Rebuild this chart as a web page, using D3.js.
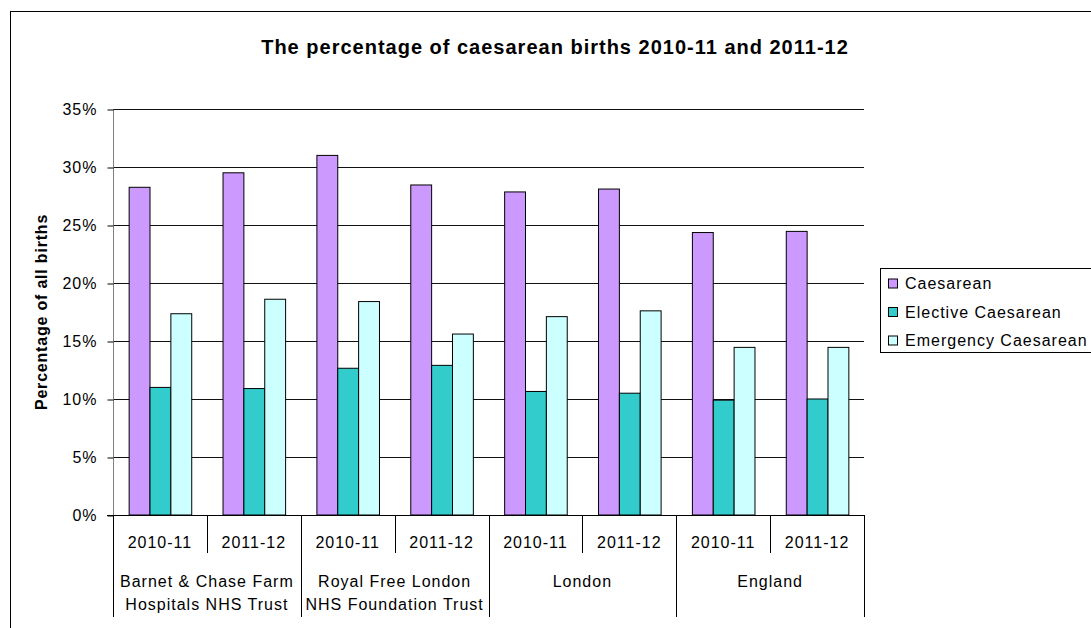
<!DOCTYPE html>
<html><head><meta charset="utf-8">
<script src="https://cdn.jsdelivr.net/npm/d3@7"></script>
<style>body{margin:0;background:#fff}svg{display:block}text{font-family:"Liberation Sans",Arial,sans-serif}</style>
</head><body>
<script>
const groups = ["Barnet & Chase Farm|Hospitals NHS Trust", "Royal Free London|NHS Foundation Trust", "London", "England"];
const years = ["2010-11", "2011-12"];
const seriesNames = ["Caesarean", "Elective Caesarean", "Emergency Caesarean"];
const seriesColors = ["#cc99ff", "#33cccc", "#ccffff"];
const caesarean = [28.25, 29.5, 31.0, 28.45, 27.85, 28.1, 24.35, 24.45];
const elective = [11.0, 10.9, 12.65, 12.9, 10.65, 10.5, 9.9, 10.0];
const emergency = [17.35, 18.6, 18.4, 15.6, 17.1, 17.6, 14.45, 14.45];
const yTicks = [0, 5, 10, 15, 20, 25, 30, 35];

const W = 1091, H = 628;
const FS = 16, LS = 1;
const svg = d3.select("body").append("svg").attr("width", W).attr("height", H);
svg.append("rect").attr("x", 10.5).attr("y", 11.5).attr("width", 1100).attr("height", 640)
  .attr("fill", "#fff").attr("stroke", "#000").attr("stroke-width", 1);

const pLeft = 113, pRight = 864, pTop = 109, pBottom = 515;
const slots = [];
groups.forEach((g, gi) => years.forEach((yr, yi) => slots.push(gi + "_" + yi)));
const x0 = d3.scaleBand().domain(slots).range([pLeft, pRight]).paddingInner(0).paddingOuter(0);
const x1 = d3.scaleBand().domain(seriesNames).range([0, x0.bandwidth()]).paddingInner(0).paddingOuter(0.75);
const y = d3.scaleLinear().domain([0, 35]).range([pBottom, pTop]);

// gridlines
svg.append("g").selectAll("line").data(yTicks.filter(d => d > 0)).join("line")
  .attr("x1", pLeft).attr("x2", pRight)
  .attr("y1", d => Math.round(y(d)) + 0.5).attr("y2", d => Math.round(y(d)) + 0.5)
  .attr("stroke", "#111").attr("stroke-width", 1);

// y axis
const yAxis = d3.axisLeft(y).tickValues(yTicks).tickFormat(d => d + "%").tickSize(6).tickPadding(10);
const ya = svg.append("g").attr("transform", `translate(${pLeft + 0.5},0.5)`).call(yAxis);
ya.select(".domain").attr("stroke", "#808080").attr("d", `M0,${pTop}V${pBottom}`);
ya.selectAll(".tick line").attr("stroke", "#000");
ya.selectAll(".tick text").attr("font-size", FS).attr("letter-spacing", LS).attr("fill", "#000")
  .attr("font-family", "Liberation Sans, Arial, sans-serif");

// bars
const series = [caesarean, elective, emergency];
series.forEach((vals, si) => {
  svg.append("g").selectAll("rect").data(vals).join("rect")
    .attr("x", (d, i) => x0(slots[i]) + x1(seriesNames[si]) + 0.5)
    .attr("y", d => y(d))
    .attr("width", x1.bandwidth())
    .attr("height", d => y(0) - y(d))
    .attr("fill", seriesColors[si]).attr("stroke", "#000").attr("stroke-width", 1);
});

// x axis baseline
svg.append("line").attr("x1", pLeft - 6).attr("x2", pRight).attr("y1", pBottom + 0.5).attr("y2", pBottom + 0.5).attr("stroke", "#000");

// year labels and dividers
const cat = svg.append("g");
slots.forEach((s, i) => {
  const yi = i % 2;
  cat.append("text").attr("x", x0(s) + x0.bandwidth() / 2).attr("y", 548)
    .attr("text-anchor", "middle").attr("font-size", FS).attr("letter-spacing", LS).text(years[yi]);
});
d3.range(slots.length + 1).forEach(i => {
  const xx = Math.round(pLeft + i * x0.bandwidth()) + 0.5;
  const isGroup = i % 2 === 0;
  cat.append("line").attr("x1", xx).attr("x2", xx).attr("y1", pBottom).attr("y2", isGroup ? 617 : 553)
    .attr("stroke", "#000").attr("stroke-width", 1);
});
groups.forEach((g, gi) => {
  const cx = pLeft + (gi * 2 + 1) * x0.bandwidth();
  const lines = g.split("|");
  lines.forEach((ln, li) => {
    cat.append("text").attr("x", cx).attr("y", 587 + li * 23)
      .attr("text-anchor", "middle").attr("font-size", FS).attr("letter-spacing", LS).text(ln);
  });
});

// title
svg.append("text").attr("x", 555).attr("y", 54).attr("text-anchor", "middle")
  .attr("font-size", 20).attr("font-weight", "bold").attr("letter-spacing", 1)
  .text("The percentage of caesarean births 2010-11 and 2011-12");

// y title
svg.append("text").attr("transform", `translate(47,${(pTop + pBottom) / 2}) rotate(-90)`)
  .attr("text-anchor", "middle").attr("font-size", FS).attr("font-weight", "bold").attr("letter-spacing", 0.8)
  .text("Percentage of all births");

// legend
const lg = svg.append("g");
lg.append("rect").attr("x", 880.5).attr("y", 268.5).attr("width", 230).attr("height", 84)
  .attr("fill", "#fff").attr("stroke", "#000");
seriesNames.forEach((n, i) => {
  const cy = 283.5 + i * 28.5;
  lg.append("rect").attr("x", 888.5).attr("y", cy - 4.5).attr("width", 9).attr("height", 9)
    .attr("fill", seriesColors[i]).attr("stroke", "#000");
  lg.append("text").attr("x", 905).attr("y", cy + 5.5).attr("font-size", FS).attr("letter-spacing", LS).text(n);
});
</script>
</body></html>
